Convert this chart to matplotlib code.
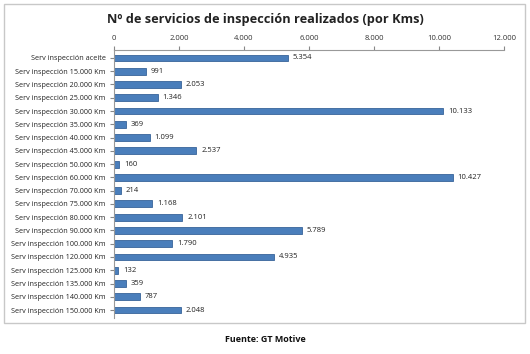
import matplotlib.pyplot as plt
from matplotlib.ticker import FuncFormatter
from matplotlib.patches import Rectangle

categories = ["Serv inspección aceite", "Serv inspección 15.000 Km", "Serv inspección 20.000 Km",
              "Serv inspección 25.000 Km", "Serv inspección 30.000 Km", "Serv inspección 35.000 Km",
              "Serv inspección 40.000 Km", "Serv inspección 45.000 Km", "Serv inspección 50.000 Km",
              "Serv inspección 60.000 Km", "Serv inspección 70.000 Km", "Serv inspección 75.000 Km",
              "Serv inspección 80.000 Km", "Serv inspección 90.000 Km", "Serv inspección 100.000 Km",
              "Serv inspección 120.000 Km", "Serv inspección 125.000 Km", "Serv inspección 135.000 Km",
              "Serv inspección 140.000 Km", "Serv inspección 150.000 Km"]
values = [5354, 991, 2053, 1346, 10133, 369, 1099, 2537, 160, 10427,
          214, 1168, 2101, 5789, 1790, 4935, 132, 359, 787, 2048]
xticks = [0, 2000, 4000, 6000, 8000, 10000, 12000]

def fmt(v):
    return f"{int(v):,}".replace(",", ".")

plt.rcParams['font.family'] = ['Open Sans', 'DejaVu Sans']
fig = plt.figure(figsize=(5.30, 3.54), dpi=100)
fig.patches.append(Rectangle((4/530, 1-323/354), 521/530, 319/354, transform=fig.transFigure,
                             fill=False, edgecolor='#c8c8c8', linewidth=1.0))
ax = fig.add_axes([114/530, 1-318/354, 390/530, 268/354])
y = list(range(len(categories)))
ax.barh(y, values, height=0.52, color='#4a7ebb', edgecolor='#38649a', linewidth=0.6)
ax.set_ylim(len(categories) - 0.4, -0.6)
ax.set_xlim(0, 12000)
ax.set_yticks(y)
ax.set_yticklabels(categories, fontsize=5.2)
ax.set_xticks(xticks)
ax.xaxis.set_major_formatter(FuncFormatter(lambda v, p: fmt(v)))
ax.xaxis.tick_top()
ax.tick_params(axis='x', labelsize=5.5, length=3, color='#888888', pad=3, labelcolor='#333333')
ax.tick_params(axis='y', length=3, color='#888888', pad=3, labelcolor='#222222')
for s in ['right', 'bottom']:
    ax.spines[s].set_visible(False)
ax.spines['top'].set_color('#999999')
ax.spines['left'].set_color('#999999')
for yi, v in zip(y, values):
    ax.text(v + 150, yi, fmt(v), va='center', ha='left', fontsize=5.5, color='#222222')
fig.text(0.5, 1-20/354, "Nº de servicios de inspección realizados (por Kms)", ha='center', va='center',
         fontsize=9.2, fontweight='bold', color='#222222')
fig.text(0.5, 1-340/354, "Fuente: GT Motive", ha='center', va='center', fontsize=6.5,
         fontweight='bold', color='#111111')
fig.savefig('out.png', dpi=100)
